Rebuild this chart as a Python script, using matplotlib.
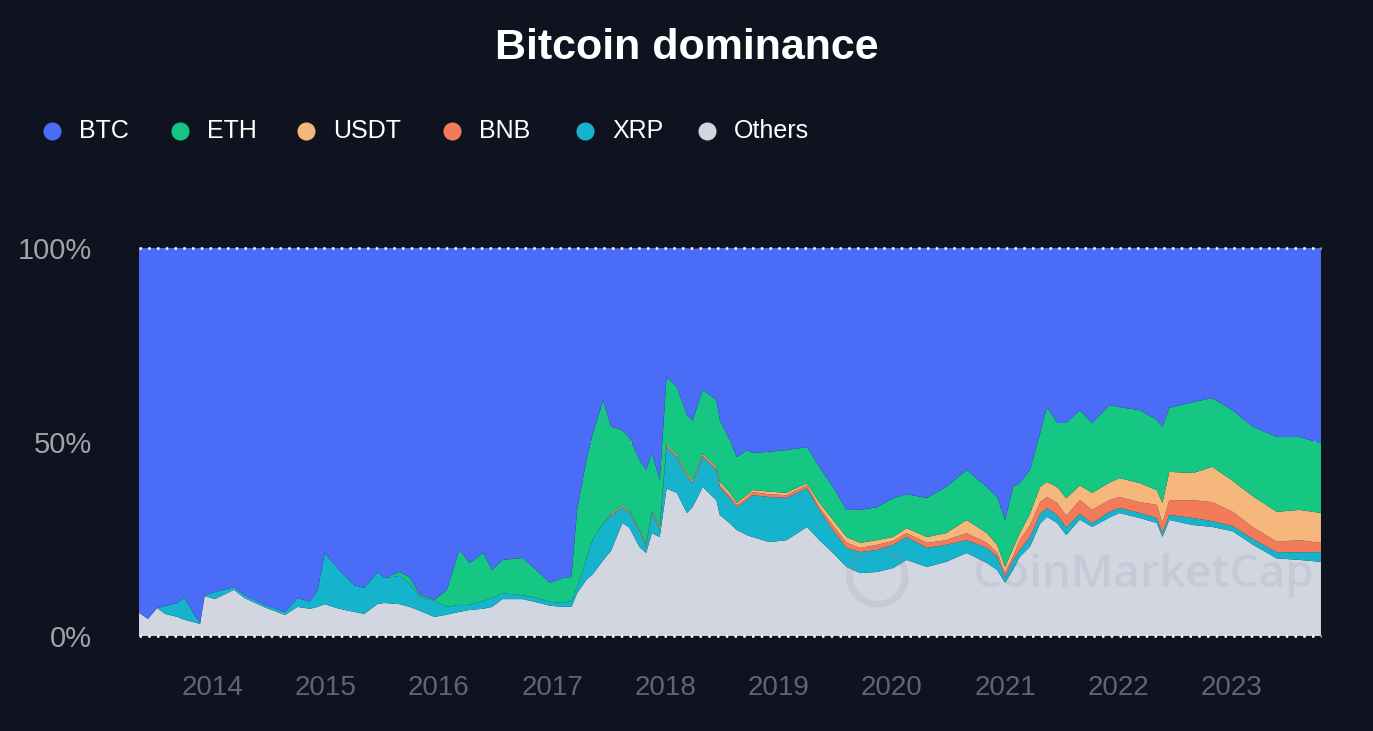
import numpy as np
import matplotlib
matplotlib.use("Agg")
from matplotlib import pyplot as plt
from matplotlib.lines import Line2D

plt.rcParams['font.family'] = ['Liberation Sans', 'DejaVu Sans']

# dominance in %, dates as decimal years
years = [2013.35, 2013.43, 2013.51, 2013.58, 2013.69, 2013.75, 2013.84, 2013.89, 2013.93, 2014.02,
         2014.19, 2014.28, 2014.46, 2014.64, 2014.75, 2014.86, 2014.93, 2014.99, 2015.12, 2015.25,
         2015.34, 2015.46, 2015.52, 2015.65, 2015.74, 2015.83, 2015.96, 2016.07, 2016.18, 2016.27,
         2016.39, 2016.47, 2016.56, 2016.74, 2016.86, 2016.98, 2017.09, 2017.17, 2017.22, 2017.30,
         2017.36, 2017.45, 2017.52, 2017.62, 2017.68, 2017.77, 2017.83, 2017.88, 2017.95, 2018.01,
         2018.10, 2018.19, 2018.24, 2018.33, 2018.45, 2018.48, 2018.57, 2018.63, 2018.72, 2018.77,
         2018.92, 2019.07, 2019.25, 2019.36, 2019.48, 2019.60, 2019.72, 2019.87, 2020.01, 2020.13,
         2020.31, 2020.48, 2020.66, 2020.84, 2020.93, 2021.00, 2021.07, 2021.13, 2021.22, 2021.31,
         2021.37, 2021.46, 2021.54, 2021.66, 2021.77, 2021.92, 2022.01, 2022.19, 2022.34, 2022.39,
         2022.45, 2022.66, 2022.83, 2023.01, 2023.19, 2023.40, 2023.60, 2023.79]

others = [6.0, 4.4, 7.2, 5.7, 4.9, 4.2, 3.5, 3.1, 10.3, 9.5,
          11.9, 9.8, 7.4, 5.4, 7.5, 7.0, 7.5, 8.2, 7.0, 6.2,
          5.7, 8.3, 8.5, 8.2, 7.5, 6.5, 4.9, 5.5, 6.2, 6.7,
          7.0, 7.5, 9.5, 9.5, 8.7, 7.8, 7.5, 7.5, 11.0, 14.4,
          16.0, 19.5, 22.0, 29.1, 28.0, 23.0, 21.4, 26.5, 25.5, 38.0,
          36.9, 31.7, 33.2, 38.4, 35.0, 31.2, 29.0, 27.3, 26.0, 25.5,
          24.2, 24.7, 28.1, 24.7, 21.4, 17.8, 16.2, 16.5, 17.5, 19.6,
          17.8, 19.1, 21.4, 18.8, 17.0, 13.7, 17.0, 20.4, 23.0, 29.0,
          30.7, 29.1, 26.0, 30.0, 28.1, 30.5, 31.7, 30.4, 29.1, 25.5,
          29.9, 28.6, 28.1, 27.0, 23.5, 20.0, 19.6, 19.1]

xrp = [0, 0, 0, 2.0, 3.6, 5.8, 1.9, 0.2, 0.3, 1.8,
       0.7, 0.8, 0.6, 0.8, 2.3, 1.8, 4.5, 13.2, 10.0, 6.9,
       6.7, 8.2, 6.4, 7.3, 6.0, 3.5, 4.1, 2.0, 1.8, 1.3,
       2.0, 2.3, 1.5, 1.0, 1.1, 1.0, 1.0, 1.5, 1.6, 5.2,
       9.0, 9.5, 9.0, 4.1, 4.0, 4.0, 1.6, 5.2, 1.8, 10.7,
       9.1, 9.3, 6.2, 7.7, 7.8, 7.2, 6.5, 5.9, 9.0, 10.8,
       11.6, 10.9, 10.0, 7.8, 5.9, 4.9, 5.4, 5.7, 6.0, 5.9,
       4.9, 4.4, 3.3, 3.9, 3.4, 1.5, 2.5, 1.8, 2.5, 2.5,
       2.3, 2.1, 2.0, 1.5, 1.0, 1.5, 1.3, 1.3, 1.3, 1.0,
       1.3, 1.8, 1.5, 1.3, 1.5, 1.6, 2.0, 2.5]

bnb = [0] * 42 + [
       0.2, 0.2, 0.2, 0.2, 0.2, 0.2, 0.3, 0.3,
       0.3, 0.3, 0.3, 0.4, 0.4, 0.5, 0.6, 0.6, 0.7, 0.8,
       0.7, 0.7, 0.8, 0.7, 1.2, 1.3, 1.1, 1.3, 1.0, 1.0,
       1.3, 1.2, 1.8, 1.3, 1.1, 1.0, 1.0, 2.5, 3.0, 3.0,
       2.8, 3.1, 3.0, 3.5, 3.4, 3.0, 2.8, 2.8, 3.4, 2.5,
       3.8, 4.6, 4.9, 3.7, 3.0, 2.7, 3.1, 2.4]

usdt = [0] * 42 + [
        0.3, 0.3, 0.3, 0.3, 0.3, 0.3, 0.4, 0.4,
        0.4, 0.4, 0.4, 0.4, 0.4, 0.8, 0.8, 0.5, 0.6, 0.5,
        0.7, 0.6, 0.5, 1.1, 1.4, 1.5, 1.3, 1.2, 1.0, 1.3,
        1.5, 1.8, 3.4, 2.5, 2.0, 1.6, 2.0, 1.8, 3.0, 4.0,
        3.9, 4.1, 4.5, 3.8, 4.4, 4.5, 4.9, 4.9, 3.8, 5.3,
        7.3, 7.0, 9.1, 8.0, 8.0, 7.7, 7.8, 7.7]

eth = [0] * 23 + [
       1.0, 1.7, 0.6, 0.3, 4.4, 14.2, 10.8,
       12.4, 7.2, 8.6, 9.6, 7.2, 4.9, 6.4, 6.2, 19.9, 25.4,
       27.3, 31.8, 22.4, 19.3, 18.8, 17.9, 19.3, 15.0, 12.2, 17.4,
       17.5, 15.3, 15.4, 16.5, 17.2, 16.0, 13.6, 11.8, 11.6, 9.6,
       10.3, 11.0, 9.3, 9.3, 8.5, 7.0, 8.5, 8.5, 10.0, 8.7,
       10.1, 11.9, 12.9, 11.9, 12.3, 12.1, 15.9, 12.9, 11.3, 13.8,
       19.3, 16.5, 19.4, 19.4, 18.0, 20.0, 18.3, 18.8, 18.1, 19.6,
       16.5, 18.3, 17.7, 18.2, 17.9, 19.3, 18.8, 18.0]

btc = [94.0, 95.6, 92.8, 92.3, 91.5, 90.0, 94.6, 96.7, 89.4, 88.7,
       87.4, 89.4, 92.0, 93.8, 90.2, 91.2, 88.0, 78.6, 83.0, 86.9,
       87.6, 83.5, 85.1, 83.5, 84.8, 89.4, 90.7, 88.1, 77.8, 81.2,
       78.6, 83.0, 80.4, 79.9, 83.0, 86.3, 85.1, 84.8, 67.5, 55.0,
       47.7, 39.2, 46.1, 46.9, 48.7, 54.6, 57.2, 52.8, 59.8, 33.2,
       35.8, 43.0, 44.3, 36.6, 39.2, 44.3, 49.5, 53.9, 52.1, 52.8,
       52.5, 52.1, 51.3, 56.4, 61.6, 67.5, 67.5, 66.8, 64.5, 63.5,
       64.4, 61.6, 57.2, 61.6, 64.2, 70.1, 61.6, 60.6, 57.2, 47.7,
       41.0, 45.1, 45.1, 41.8, 45.1, 40.5, 41.0, 41.8, 44.3, 46.1,
       41.2, 39.7, 38.7, 41.8, 46.1, 48.7, 48.7, 50.3]

names = ['BTC', 'ETH', 'USDT', 'BNB', 'XRP', 'Others']
colors = {'BTC': '#4a6cf6', 'ETH': '#16c784', 'USDT': '#f5b77c',
          'BNB': '#f47a5c', 'XRP': '#16b4cc', 'Others': '#d2d6e1'}
year_ticks = list(range(2014, 2024))
pct_ticks = [0, 50, 100]

bg = '#0e131f'
W, H = 1373, 731
fig = plt.figure(figsize=(W / 100, H / 100), dpi=100, facecolor=bg)
ax = fig.add_axes([0.1012, 0.130, 0.8609, 0.5307])
ax.set_facecolor(bg)

# stacked from the bottom up
stack_order = ['Others', 'XRP', 'BNB', 'USDT', 'ETH', 'BTC']
series = {'BTC': btc, 'ETH': eth, 'USDT': usdt, 'BNB': bnb, 'XRP': xrp, 'Others': others}
ax.stackplot(years, [series[n] for n in stack_order],
             colors=[colors[n] for n in stack_order], linewidth=0, zorder=2)

ax.set_xlim(years[0], years[-1])
ax.set_ylim(0, 100)

# dotted grid lines
ax.axhline(50, color='white', ls=(0, (1, 3)), lw=1.5, zorder=1)
for v in (0, 100):
    ax.axhline(v, color='white', ls=(0, (1, 2.5)), lw=1.8, zorder=3, clip_on=False)

ax.set_xticks(year_ticks)
ax.set_xticklabels([str(y) for y in year_ticks], fontsize=20, color='#5f6673')
ax.set_yticks(pct_ticks)
ax.set_yticklabels([f'{v}%' for v in pct_ticks], fontsize=21, color='#9ea3ab')
ax.tick_params(axis='x', length=0, pad=28)
ax.tick_params(axis='y', length=0, pad=34)
for s in ax.spines.values():
    s.set_visible(False)

# faint watermark, see-through so it only shows on the grey band
wm = '#7c8296'
ax.text((1314 - 139) / (1321 - 139), (636 - 576) / 388, 'CoinMarketCap', transform=ax.transAxes,
        ha='right', va='center', fontsize=33, fontweight='semibold', color=wm, alpha=0.14,
        zorder=2.5, family='Open Sans')
ax.add_artist(Line2D([877 / W], [1 - 576 / H], transform=fig.transFigure, marker='o',
                     markersize=40, mfc='none', mec=wm, mew=5, lw=0, alpha=0.14, zorder=2.5))

fig.text(0.5005, 0.935, 'Bitcoin dominance', ha='center', va='center',
         fontsize=31, fontweight='bold', color='white')

# legend row
leg_x = [52, 180, 306, 452, 585, 707]
for n, x in zip(names, leg_x):
    fig.add_artist(Line2D([x / W], [1 - 131 / H], transform=fig.transFigure, marker='o',
                          markersize=12, color=colors[n], lw=0))
    fig.text((x + 27) / W, 1 - 131 / H, n, ha='left', va='center',
             fontsize=18, color='white')

fig.savefig('out.png', dpi=100, facecolor=bg)
